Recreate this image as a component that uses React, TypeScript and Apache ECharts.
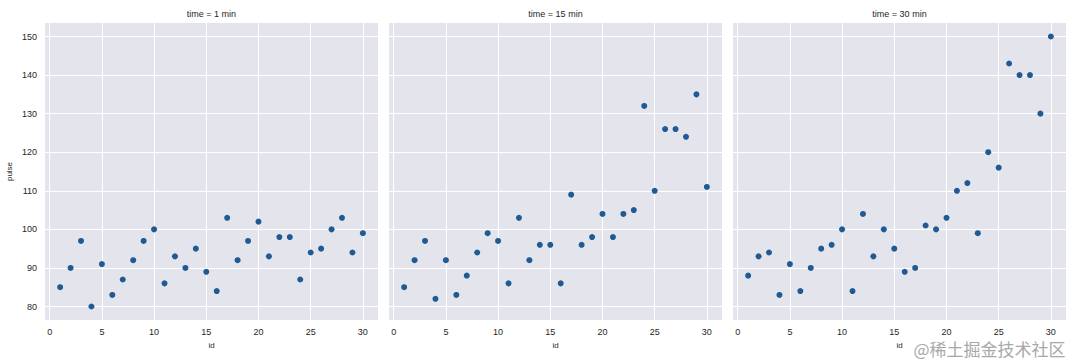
import React, { useEffect, useRef } from "react";
import * as echarts from "echarts";

const ids = Array.from({ length: 30 }, (_, i) => i + 1);
const panelTitles = ["time = 1 min", "time = 15 min", "time = 30 min"];
const pulse1min = [85, 90, 97, 80, 91, 83, 87, 92, 97, 100, 86, 93, 90, 95, 89, 84, 103, 92, 97, 102, 93, 98, 98, 87, 94, 95, 100, 103, 94, 99];
const pulse15min = [85, 92, 97, 82, 92, 83, 88, 94, 99, 97, 86, 103, 92, 96, 96, 86, 109, 96, 98, 104, 98, 104, 105, 132, 110, 126, 126, 124, 135, 111];
const pulse30min = [88, 93, 94, 83, 91, 84, 90, 95, 96, 100, 84, 104, 93, 100, 95, 89, 90, 101, 100, 103, 110, 112, 99, 120, 116, 143, 140, 140, 130, 150];
const xTicks = [0, 5, 10, 15, 20, 25, 30];
const yTicks = [80, 90, 100, 110, 120, 130, 140, 150];

const panels = [pulse1min, pulse15min, pulse30min];

export default function App() {
  const ref = useRef<HTMLDivElement>(null);
  useEffect(() => {
    document.body.style.margin = "0";
    const chart = echarts.init(ref.current!, null, { renderer: "svg" });
    const lefts = [45, 389, 733];
    const width = 333;
    const top = 23;
    const height = 297;
    const font = "Liberation Sans, Arial, sans-serif";
    const grids = lefts.map((l) => ({ left: l, top, width, height, backgroundColor: "#E4E4ED", show: true, borderWidth: 0 }));
    const xAxes = lefts.map((_, i) => ({
      type: "value",
      gridIndex: i,
      min: -0.45,
      max: 31.45,
      axisLine: { show: false },
      axisTick: { show: false },
      splitLine: { show: false },
      axisLabel: { customValues: xTicks, fontSize: 9, color: "#262626", margin: 7, fontFamily: font },
      name: "id",
      nameLocation: "middle",
      nameGap: 21,
      nameTextStyle: { fontSize: 8, color: "#262626", fontFamily: font },
    }));
    const yAxes = lefts.map((_, i) => ({
      type: "value",
      gridIndex: i,
      min: 76.5,
      max: 153.5,
      axisLine: { show: false },
      axisTick: { show: false },
      splitLine: { show: false },
      axisLabel: { show: i === 0, customValues: yTicks, fontSize: 9, color: "#262626", margin: 8, fontFamily: font },
      name: i === 0 ? "pulse" : "",
      nameLocation: "middle",
      nameGap: 32,
      nameRotate: 90,
      nameTextStyle: { fontSize: 8, color: "#262626", fontFamily: font },
    }));
    const series: any[] = [];
    panels.forEach((vals, i) => {
      series.push({
        type: "scatter",
        xAxisIndex: i,
        yAxisIndex: i,
        data: [],
        z: 1,
        silent: true,
        markLine: {
          silent: true,
          z: 1,
          symbol: "none",
          animation: false,
          label: { show: false },
          lineStyle: { color: "#ffffff", width: 1, type: "solid" },
          emphasis: { disabled: true },
          data: [...xTicks.map((v) => ({ xAxis: v })), ...yTicks.map((v) => ({ yAxis: v }))],
        },
      });
      series.push({
        type: "scatter",
        xAxisIndex: i,
        yAxisIndex: i,
        z: 10,
        symbolSize: 6,
        itemStyle: { color: "#1F5A94", opacity: 1 },
        data: ids.map((id, k) => [id, vals[k]]),
      });
    });
    const graphic: any[] = panelTitles.map((t, i) => ({
      type: "text",
      x: lefts[i] + width / 2,
      y: 14,
      style: { text: t, fontSize: 9, fill: "#262626", textAlign: "center", textVerticalAlign: "middle", fontFamily: font },
    }));
    graphic.push({
      type: "text",
      right: 6,
      top: 339,
      z: 100,
      style: { text: "@稀土掘金技术社区", fontSize: 17, fill: "#A8A8A8", stroke: "#ffffff", lineWidth: 1, fontFamily: "Noto Sans CJK SC" },
    });
    chart.setOption({
      animation: false,
      backgroundColor: "#ffffff",
      grid: grids,
      xAxis: xAxes,
      yAxis: yAxes,
      series,
      graphic,
    });
    return () => chart.dispose();
  }, []);
  return <div ref={ref} style={{ width: 1072, height: 359 }} />;
}
